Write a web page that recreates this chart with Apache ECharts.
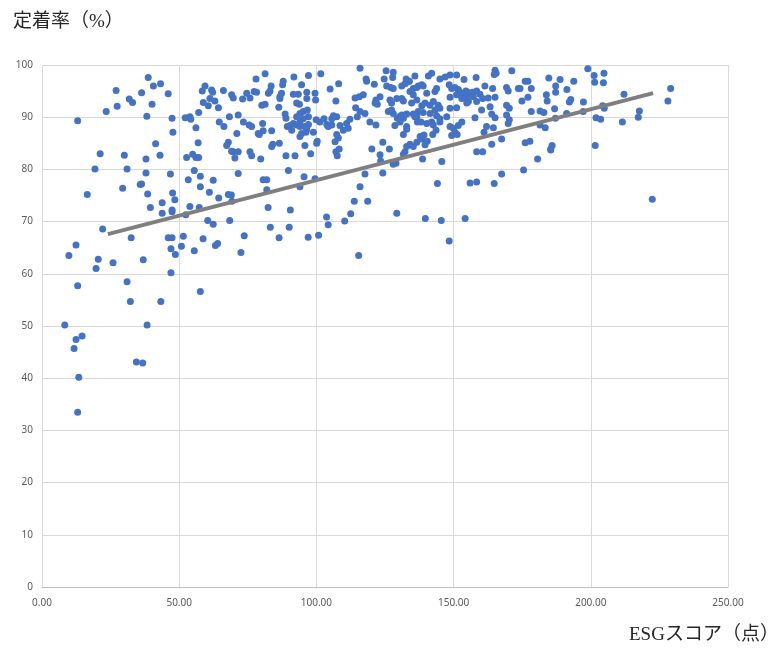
<!DOCTYPE html>
<html lang="ja">
<head>
  <meta charset="UTF-8">
  <title>ESGスコアと定着率</title>
  <style>
    body { margin: 0; padding: 0; background: #fff; }
    #chart { width: 772px; height: 648px; }
  </style>
</head>
<body>
  <div id="chart"></div>
  <script src="https://cdn.jsdelivr.net/npm/echarts@6/dist/echarts.min.js"></script>
  <script>
    // ESGスコア(点) と 定着率(%) の組
    var points = [
      [38.7,97.6],[40.6,96.0],[43.2,96.4],[27.0,95.1],[36.3,94.7],[46.0,94.5],[31.8,93.5],[33.0,92.8],[27.4,92.1],[40.1,92.5],
      [23.4,91.1],[38.2,90.2],[13.0,89.3],[47.4,89.8],[52.2,89.9],[53.9,90.1],[54.2,89.6],[47.7,87.1],[56.1,88.0],[57.1,90.9],
      [58.8,92.8],[60.6,92.2],[58.4,95.0],[59.4,96.0],[61.2,93.6],[41.4,84.9],[56.9,85.1],[21.2,83.0],[30.0,82.7],[37.9,82.0],
      [43.0,82.7],[52.7,82.3],[54.9,82.9],[56.1,82.3],[57.1,82.3],[19.3,80.1],[31.0,80.1],[37.9,79.3],[46.8,79.1],[55.5,79.8],
      [57.7,78.7],[53.3,78.0],[35.8,77.1],[36.3,77.2],[29.4,76.4],[16.5,75.2],[38.5,75.3],[47.6,75.5],[48.4,74.2],[57.7,76.7],
      [43.8,73.6],
      [39.5,72.7],[43.8,71.6],[47.4,72.2],[47.4,71.9],[53.9,72.9],[57.3,72.7],[52.4,71.3],[60.4,70.2],[22.1,68.6],[32.5,66.9],
      [46.0,66.9],[47.4,66.9],[51.5,67.2],[58.7,66.7],[12.4,65.5],[47.0,64.8],[50.8,65.3],[55.5,64.4],[48.6,63.7],[9.8,63.5],
      [20.5,62.8],[25.9,62.1],[36.9,62.7],[19.7,61.0],[47.0,60.2],[13.0,57.7],[31.0,58.5],[32.2,54.7],[43.3,54.7],[57.7,56.6],
      [8.3,50.2],[38.3,50.2],[12.4,47.4],[14.6,48.1],[11.7,45.7],[34.4,43.1],[36.7,42.9],[13.4,40.2],[13.0,33.5],
      [64.4,74.5],[69.0,75.1],[69.2,73.9],[82.4,72.7],[90.5,72.2],[62.4,69.5],[68.4,70.2],[83.2,68.9],[90.1,68.9],[73.7,67.3],
      [86.4,66.9],[97.0,67.0],[100.8,67.4],[63.2,65.4],[64.0,65.8],[72.5,64.1],[103.7,70.9],[104.3,69.4],[110.3,70.1],[112.5,71.5],
      [113.8,73.9],[118.7,73.9],[115.4,63.5],
      [129.3,71.6],[139.7,70.6],[145.5,70.2],[154.2,70.6],[148.4,66.3],
      [222.4,74.3],[180.6,82.0],[175.5,79.9],[185.4,83.7],
      [198.9,99.3],[201.2,98.0],[204.8,98.4],[201.4,96.7],[204.6,96.6],[176.1,96.9],[177.1,96.9],[184.7,97.5],[188.8,97.2],[193.8,96.9],
      [174.2,95.5],[178.3,95.5],[187.2,96.0],[191.3,95.3],[187.2,94.8],[229.1,95.5],[183.8,94.3],[177.1,93.8],[174.9,93.1],[184.1,93.1],
      [192.7,93.4],[192.2,92.9],[197.3,92.9],[212.1,94.4],[228.1,93.1],[186.8,91.6],[178.3,91.1],[181.5,91.2],[182.9,90.9],[191.2,90.7],
      [197.2,91.1],[204.3,92.2],[204.9,91.7],[217.7,91.2],[187.1,89.8],[201.9,89.9],[203.6,89.6],[211.5,89.1],[217.3,90.0],[181.5,88.5],
      [183.4,88.0],[176.1,85.1],[177.8,85.4],[185.9,84.6],[185.4,83.9],[201.6,84.6],
      [115.9,99.4],[125.4,98.9],[128.0,98.6],[127.8,97.6],[118.1,97.3],[118.3,96.9],[124.7,97.3],[121.1,96.3],[132.7,97.3],[133.9,96.9],
      [135.9,97.9],[140.8,97.9],[142.0,98.4],[145.0,97.3],[146.9,97.7],[148.7,98.1],[151.1,98.1],[153.8,97.2],[158.2,97.6],[165.1,99.0],
      [165.5,98.4],[164.8,98.2],[171.2,98.9],
      [125.6,96.0],[127.1,95.7],[128.0,95.5],[131.1,96.0],[132.3,96.4],[133.5,96.8],[135.3,95.5],[137.1,96.0],[138.9,96.0],[143.8,95.5],
      [143.2,94.9],[140.2,94.6],[148.4,96.2],[149.3,95.5],[150.5,95.7],[151.7,95.3],
      [152.3,94.8],[153.5,94.6],[154.5,95.0],[155.7,94.7],[157.0,94.8],[158.4,95.0],[159.6,94.4],[161.4,96.0],
      [148.7,93.8],[151.1,94.3],[153.0,93.6],[154.8,93.7],[157.2,93.9],[158.4,93.0],[160.6,93.6],
      [164.2,95.5],[165.1,93.8],[169.3,95.7],[169.9,95.0],[173.6,95.5],[117.1,94.3],[115.9,91.1],[117.7,90.7],
      [121.7,93.3],[122.2,92.5],[121.4,92.7],[123.2,93.9],
      [126.8,93.3],[127.4,92.7],[129.3,93.6],[131.1,93.6],[131.7,93.1],
      [134.1,94.9],[135.3,94.3],[136.6,95.7],[138.4,96.2],
      [134.7,92.7],[136.6,93.3],[138.4,92.2],[139.6,92.7],[141.4,92.3],[142.6,93.0],[144.4,92.3],[145.0,91.7],
      [148.7,91.7],[151.1,91.8],[155.4,93.0],[154.8,92.7],[162.6,93.7],[163.3,92.0],[169.3,92.3],[170.3,91.7],
      [126.2,91.1],[127.4,91.4],[128.0,90.7],
      [130.2,90.1],[131.1,90.4],[131.7,89.8],[132.9,90.6],[135.3,90.6],[136.6,90.1],[137.1,91.1],[138.9,90.9],[141.4,90.7],[143.2,91.4],
      [143.8,90.3],[145.0,89.7],
      [147.5,90.1],[157.8,89.9],[160.2,91.4],[163.9,90.6],[165.1,89.9],[169.3,90.4],[170.3,89.5],[169.9,88.8],
      [119.5,89.1],[121.7,88.5],[128.6,88.4],[129.5,89.8],[130.5,89.1],[132.9,88.2],[132.9,87.7],[135.9,90.1],[136.8,89.1],
      [138.1,89.1],[140.2,88.8],[142.0,89.1],[142.6,88.5],[145.0,89.1],[143.6,87.5],[142.4,86.7],
      [148.7,88.2],[149.9,87.9],[151.7,88.4],[150.5,87.1],[149.3,86.5],[151.3,86.7],[153.0,89.1],[162.0,88.2],[164.5,88.0],[167.5,85.8],
      [161.1,87.1],[131.7,86.7],
      [137.8,86.3],[139.2,86.6],[138.4,85.8],[140.4,85.4],[139.6,84.7],[136.6,85.2],[134.1,84.8],[132.9,84.4],[135.3,84.4],
      [132.3,83.4],[131.7,82.9],[120.2,83.9],[124.2,85.2],[123.2,82.8],[126.6,83.9],[123.4,81.6],[129.0,81.2],[128.0,81.0],[138.7,82.0],
      [145.7,81.5],[158.4,83.4],[160.6,83.4],[163.9,84.8],
      [117.7,79.1],[124.2,79.3],[144.1,77.3],[156.0,77.4],[158.4,77.6],[164.8,77.3],[167.5,79.1],[115.9,76.7],
      [81.3,98.3],[78.0,97.3],[87.9,96.9],[87.7,96.2],[91.8,97.7],[97.1,98.0],[101.6,98.3],[108.1,96.4],[105.0,95.4],[83.5,96.0],
      [94.6,96.2],
      [61.8,95.2],[62.2,94.8],[63.0,93.1],[66.1,95.1],[69.1,94.3],[69.7,93.7],[73.1,93.5],[74.6,94.6],[75.8,93.7],[77.3,94.9],
      [78.2,94.8],[82.5,94.6],[83.1,95.0],[86.7,93.9],[87.3,94.6],[86.7,93.6],
      [91.6,94.4],[93.4,94.4],[96.5,94.8],[96.5,93.6],[99.5,94.6],[99.7,93.3],[64.3,91.8],[80.1,92.3],[81.3,92.5],[86.3,91.9],
      [92.8,92.7],[93.8,92.5],
      [88.6,90.6],[88.9,89.8],[92.8,90.1],[94.0,90.7],[95.2,91.1],[96.7,91.4],[97.1,90.1],[107.1,93.1],[114.1,93.7],[115.6,93.9],
      [114.3,91.8],[114.9,90.1],
      [107.4,90.1],[105.6,89.7],[106.2,90.3],[112.2,89.6],[111.0,88.8],[108.6,88.4],[109.8,87.5],[111.6,87.9],[107.4,86.7],[108.0,86.0],
      [106.8,85.3],
      [64.6,89.1],[66.3,88.2],[68.3,90.1],[71.5,90.4],[73.4,89.1],[75.5,88.5],[76.4,88.2],[71.0,86.9],[78.8,86.9],[80.4,88.8],
      [80.6,87.4],[79.2,86.7],[83.7,87.4],
      [89.4,88.2],[90.4,88.4],[91.6,88.8],[92.8,88.5],[94.0,89.1],[95.2,89.7],
      [91.0,87.5],[94.0,88.2],[95.8,88.2],[96.5,87.7],[94.6,86.9],[96.2,87.1],[98.9,87.1],[97.1,88.6],
      [99.9,89.5],[101.3,89.1],[102.8,89.7],[103.8,88.6],[104.3,88.2],[105.6,88.5],
      [94.0,86.3],[100.1,85.0],[100.3,85.4],[95.8,84.6],[67.9,85.2],[67.3,84.6],[69.7,83.4],[69.1,83.5],[71.5,83.4],[70.3,82.2],
      [75.8,83.4],[76.4,82.6],[79.7,82.0],[83.7,84.4],[84.1,84.8],[86.5,85.0],[88.9,82.6],[92.2,82.6],[97.9,83.0],
      [107.1,83.4],[107.6,82.6],[108.3,83.9],
      [89.8,79.8],[95.5,78.6],[99.5,78.2],[71.5,79.2],[62.4,77.9],[80.6,78.0],[81.9,78.0],[94.0,76.7],[81.9,76.1],[61.0,75.6],
      [67.9,75.2]
    ];

    // 近似直線の両端
    var trendX = [24.0, 222.7];
    var trendY = [67.6, 94.6];

    var chart = echarts.init(document.getElementById('chart'));

    var titleFont = "'Liberation Serif', 'Noto Sans CJK JP', serif";
    var labelFont = "'Noto Sans', 'Open Sans', sans-serif";

    var option = {
      animation: false,
      title: [
        {
          text: '定着率（%）',
          left: 8,
          top: 8,
          textStyle: { fontFamily: titleFont, fontSize: 19, fontWeight: 'normal', color: '#262626' }
        },
        {
          text: 'ESGスコア（点）',
          left: 624,
          top: 621,
          textStyle: { fontFamily: titleFont, fontSize: 19, fontWeight: 'normal', color: '#262626' }
        }
      ],
      grid: { left: 42, right: 44, top: 65, bottom: 61 },
      xAxis: {
        type: 'value',
        min: 0,
        max: 250,
        interval: 50,
        axisLine: { show: true, lineStyle: { color: '#bfbfbf' } },
        axisTick: { show: false },
        axisLabel: {
          color: '#595959',
          fontFamily: labelFont,
          fontSize: 10,
          margin: 11,
          formatter: function (v) { return v.toFixed(2); }
        },
        splitLine: { show: true, lineStyle: { color: '#d9d9d9' } }
      },
      yAxis: {
        type: 'value',
        min: 0,
        max: 100,
        interval: 10,
        axisLine: { show: false },
        axisTick: { show: false },
        axisLabel: { color: '#595959', fontFamily: labelFont, fontSize: 10, margin: 9 },
        splitLine: { show: true, lineStyle: { color: '#d9d9d9' } }
      },
      series: [
        {
          type: 'scatter',
          data: points,
          symbol: 'circle',
          symbolSize: 7,
          itemStyle: { color: '#4472c4', opacity: 1 }
        },
        {
          type: 'line',
          data: trendX.map(function (x, i) { return [x, trendY[i]]; }),
          symbol: 'none',
          lineStyle: { color: '#7f7f7f', width: 4 },
          z: 3
        }
      ]
    };

    chart.setOption(option);
  </script>
</body>
</html>
